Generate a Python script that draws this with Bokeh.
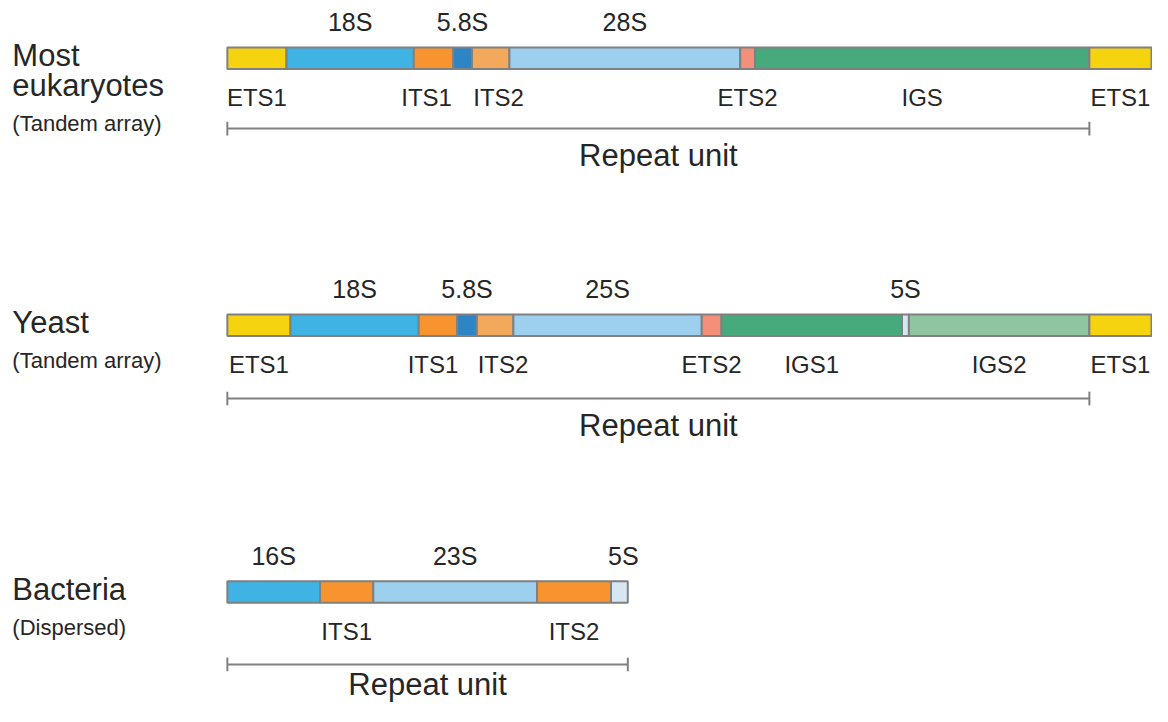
import numpy as np
from bokeh.plotting import figure
from bokeh.models import Range1d, ColumnDataSource
from bokeh.embed import file_html
from bokeh.resources import INLINE
from bokeh.core.properties import value

# ---------------- data ----------------
row_titles = [["Most", "eukaryotes"], ["Yeast"], ["Bacteria"]]
row_subtitles = ["(Tandem array)", "(Tandem array)", "(Dispersed)"]
row_tandem = [True, True, False]

euk_names = ["ETS1", "18S", "ITS1", "5.8S", "ITS2", "28S", "ETS2", "IGS", "ETS1"]
euk_lengths = [60, 129, 40, 19, 38, 234, 15, 339, 63]

yeast_names = ["ETS1", "18S", "ITS1", "5.8S", "ITS2", "25S", "ETS2", "IGS1", "5S", "IGS2", "ETS1"]
yeast_lengths = [64, 130, 39, 20, 37, 191, 20, 183, 7, 183, 63]

bact_names = ["16S", "ITS1", "23S", "ITS2", "5S"]
bact_lengths = [94, 54, 166, 75, 17]

repeat_label = "Repeat unit"

rows_names = [euk_names, yeast_names, bact_names]
rows_lengths = [euk_lengths, yeast_lengths, bact_lengths]

# ---------------- style / layout ----------------
COLORS = {"ETS1": "#f6d30f", "18S": "#3fb3e4", "16S": "#3fb3e4", "ITS1": "#f7942f",
          "5.8S": "#2d85c6", "ITS2": "#f2a95b", "28S": "#9dcfef", "25S": "#9dcfef",
          "23S": "#9dcfef", "ETS2": "#f48f7a", "IGS": "#46aa7d", "IGS1": "#46aa7d",
          "IGS2": "#8fc5a1", "5S": "#d7e6f3"}
ROW_COLOR_OVERRIDE = [{}, {}, {"ITS2": "#f7942f"}]
NUDGE = [{"ITS1": -7, "ITS2": 8}, {"ITS1": -5, "ITS2": 8}, {"5S": 4}]

BAR_X0 = 230
BAR_TOPS = [48, 321, 594]
BAR_H = 22
LINE_Y = [131, 407, 679]
REPEAT_DY = [28, 28, 21]
TEXT_COLOR = "#262626"
EDGE = "#808080"
FONT = value("Liberation Sans")

p = figure(width=1152, height=706, x_range=Range1d(0, 1168), y_range=Range1d(722, 0),
           output_backend="svg", toolbar_location=None, min_border=0)
p.axis.visible = False
p.grid.visible = False
p.outline_line_color = None
p.background_fill_color = "white"
p.border_fill_color = "white"


def label(xs, ys, texts, size, align="center"):
    p.text(x=list(xs), y=list(ys), text=list(texts), text_align=align,
           text_baseline="middle", text_font=FONT, text_font_size=size,
           text_color=TEXT_COLOR)


for r, (names, lengths) in enumerate(zip(rows_names, rows_lengths)):
    lengths = np.array(lengths, dtype=float)
    rights = BAR_X0 + np.cumsum(lengths)
    lefts = rights - lengths
    top = BAR_TOPS[r]
    bottom = top + BAR_H
    colors = [ROW_COLOR_OVERRIDE[r].get(n, COLORS[n]) for n in names]
    src = ColumnDataSource(dict(left=lefts, right=rights, top=[top] * len(names),
                                bottom=[bottom] * len(names), color=colors))
    p.quad(left="left", right="right", top="top", bottom="bottom", fill_color="color",
           line_color=EDGE, line_width=2, source=src)

    centers = (lefts + rights) / 2 + np.array([NUDGE[r].get(n, 0) for n in names])
    above = [n[0].isdigit() for n in names]
    ax = [c for c, a in zip(centers, above) if a]
    at = [n for n, a in zip(names, above) if a]
    bx = [c for c, a in zip(centers, above) if not a]
    bt = [n for n, a in zip(names, above) if not a]
    label(ax, [top - 26] * len(ax), at, "25px")
    label(bx, [bottom + 29.5] * len(bx), bt, "24px")

    # repeat unit bracket
    x_end = lefts[-1] if row_tandem[r] else rights[-1]
    ly = LINE_Y[r]
    p.segment(x0=[BAR_X0, BAR_X0, x_end], y0=[ly, ly - 7, ly - 7],
              x1=[x_end, BAR_X0, x_end], y1=[ly, ly + 7, ly + 7],
              line_color=EDGE, line_width=2)
    label([(BAR_X0 + x_end) / 2], [ly + REPEAT_DY[r]], [repeat_label], "31px")

    # row titles
    title_lines = row_titles[r]
    ys = [top + 8 + 31 * i for i in range(len(title_lines))]
    label([12] * len(title_lines), ys, title_lines, "31px", align="left")
    label([12], [ys[-1] + 39], [row_subtitles[r]], "22px", align="left")

open("out.html", "w").write(file_html(p, INLINE))
